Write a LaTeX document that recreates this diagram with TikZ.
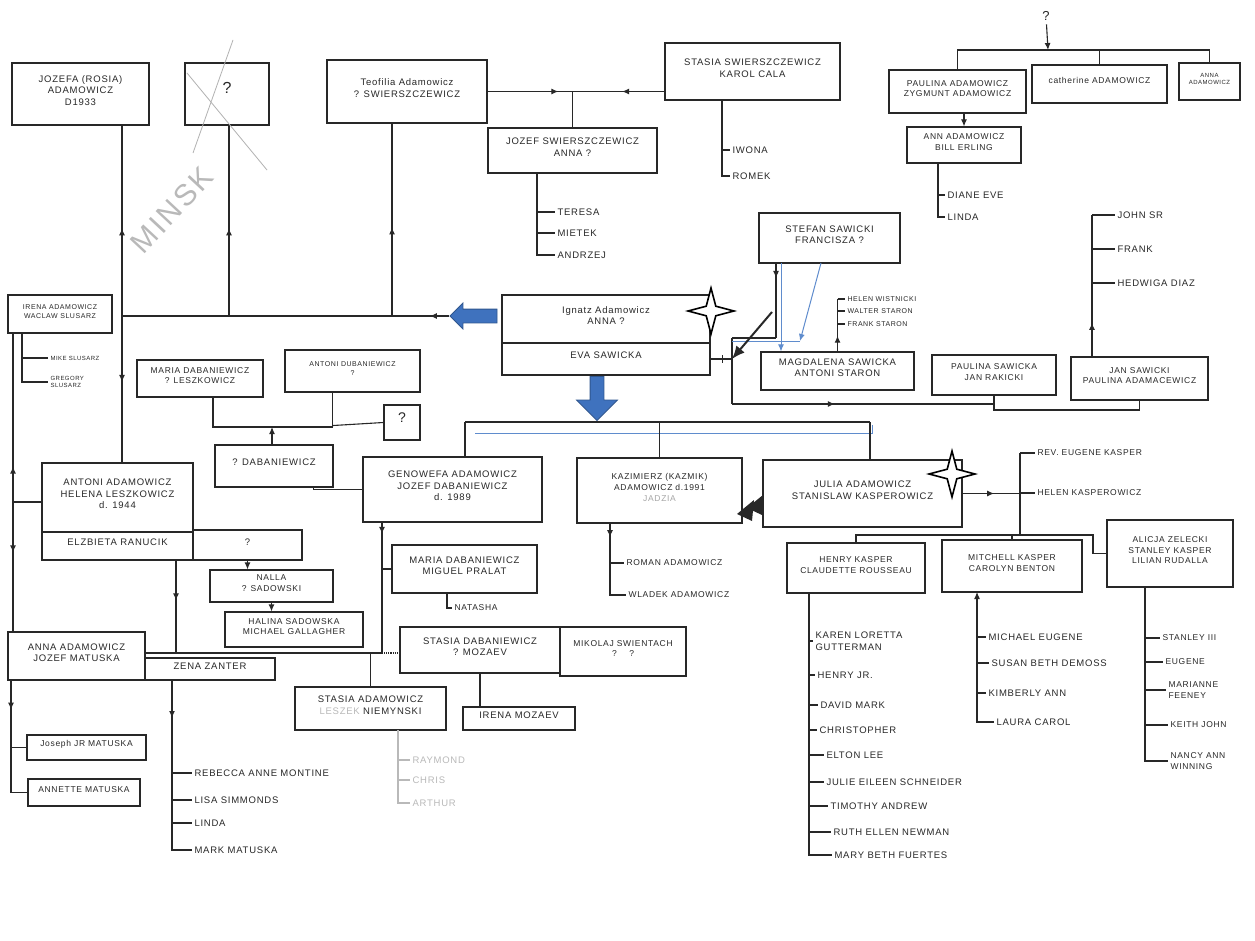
\documentclass[tikz,border=0pt]{standalone}
\usepackage{fontspec}
\usetikzlibrary{positioning,fit,calc,shapes.geometric,shapes.arrows,arrows.meta,decorations.markings}
\newfontfamily\hand{Liberation Sans}[LetterSpace=8]
\newcommand{\fA}{\hand\fontsize{9.5}{11.5}\selectfont}
\newcommand{\fB}{\hand\fontsize{8.5}{10.5}\selectfont}
\newcommand{\fC}{\hand\fontsize{7}{8.5}\selectfont}
\newcommand{\fD}{\hand\fontsize{6}{7}\selectfont}
\definecolor{inkgray}{RGB}{40,40,40}
\definecolor{arrowblue}{RGB}{63,114,190}
\definecolor{lineblue}{RGB}{95,140,205}
\tikzstyle{person}=[draw,rectangle,inner sep=0pt,align=left,font=\fA]
\tikzstyle{kid}=[anchor=west,inner sep=2pt,align=left,font=\fA]
\tikzstyle{fatarrow}=[single arrow,fill=arrowblue,draw=arrowblue!75!black,line width=0.8pt,single arrow head indent=0pt]
\tikzstyle{starmark}=[star,star points=4,star point ratio=3.4,draw=black,fill=white,line width=1.6pt,minimum size=46pt,inner sep=0pt]
\tikzstyle{blueline}=[draw=lineblue,line width=1pt]
\tikzset{midarrow/.style={postaction={decorate},decoration={markings,mark=at position #1 with {\arrow{>}}}},midarrow/.default=0.5}
\newcommand{\newPerson}[5][]{\node[person,fit={(#3) (#4)},#1](#2){#5};}
\newcommand{\newKid}[5][]{\node[kid,#1](#3) at (#4){#5};\draw[#1] (#2 |- #3.west) -- (#3.west);}

\begin{document}
\begin{tikzpicture}[x=1pt,y=-1pt,>={Latex[length=7pt,width=6pt]},
    line width=1.1pt,color=inkgray]
  \path[fill=white] (0,0) rectangle (1255,941);
  \useasboundingbox (0,0) rectangle (1255,941);

  % top row
  \newPerson{josefa}{12,63}{149,125}{JOZEFA (ROSIA)\\ADAMOWICZ\\D1933}
  \newPerson[font=\hand\fontsize{16}{16}\selectfont]{unknownA}{185,63}{269,125}{?}
  \newPerson{teofilia}{327,60}{487,123}{Teofilia Adamowicz\\? SWIERSZCZEWICZ}
  \newPerson{stasiaS}{665,43}{840,100}{STASIA SWIERSZCZEWICZ\\KAROL CALA}
  \newPerson{jozefS}{488,128}{657,173}{JOZEF SWIERSZCZEWICZ\\ANNA ?}
  \draw[gray!60,line width=0.8pt] (233,40) -- (193,153) (187,73) -- (267,170);
  \node[gray!55,rotate=47,font=\hand\fontsize{30}{30}\selectfont] (minsk) at (172,210) {MINSK};

  \node[font=\hand\fontsize{13}{13}\selectfont] (qtop) at (1046,16) {?};
  \coordinate (sibs) at (1048,50);
  \newPerson[font=\fB]{paulinaA}{889,70}{1026,113}{PAULINA ADAMOWICZ\\ZYGMUNT ADAMOWICZ}
  \newPerson[font=\fB]{catherine}{1032,65}{1167,103}{catherine ADAMOWICZ}
  \newPerson[font=\fD]{annaA}{1179,63}{1240,100}{ANNA\\ADAMOWICZ}
  \newPerson[font=\fB]{annE}{907,127}{1021,163}{ANN ADAMOWICZ\\BILL ERLING}

  % Ignatz and the Sawicki side
  \newPerson{ignatz}{502,295}{710,343}{Ignatz Adamowicz\\ANNA ?}
  \newPerson{eva}{502,343}{710,375}{EVA SAWICKA}
  \node[starmark] (starA) at (711,311) {};
  \node[fatarrow,rotate=180,minimum height=47pt,inner sep=6.5pt,single arrow head extend=6pt] (leftArr) at (477,316) {};
  \node[fatarrow,rotate=-90,minimum height=44pt,inner sep=6.5pt,single arrow head extend=13.5pt] (downArr) at (597,395) {};
  \newPerson{stefan}{759,213}{900,263}{STEFAN SAWICKI\\FRANCISZA ?}
  \newPerson{magda}{761,352}{914,390}{MAGDALENA SAWICKA\\ANTONI STARON}
  \newPerson[font=\fB]{paulinaS}{932,355}{1056,395}{PAULINA SAWICKA\\JAN RAKICKI}
  \newPerson[font=\fB]{janS}{1071,357}{1208,400}{JAN SAWICKI\\PAULINA ADAMACEWICZ}

  % left side
  \newPerson[font=\fC]{irena}{8,295}{112,333}{IRENA ADAMOWICZ\\WACLAW SLUSARZ}
  \newPerson{antoniA}{42,463}{193,532}{ANTONI ADAMOWICZ\\HELENA LESZKOWICZ\\d. 1944}
  \newPerson{elz}{42,532}{193,560}{ELZBIETA RANUCIK}
  \newPerson{extQ}{193,530}{302,560}{?}
  \newPerson[font=\fB]{mariaD}{137,360}{263,397}{MARIA DABANIEWICZ\\? LESZKOWICZ}
  \newPerson[font=\fC]{antoniD}{285,350}{420,392}{ANTONI DUBANIEWICZ\\?}
  \newPerson[font=\hand\fontsize{14}{14}\selectfont]{qBox}{384,405}{420,440}{?}
  \newPerson{qDab}{215,445}{333,487}{? DABANIEWICZ}
  \newPerson[font=\fB]{nalla}{210,570}{333,602}{NALLA\\? SADOWSKI}
  \newPerson[font=\fB]{halina}{225,612}{363,647}{HALINA SADOWSKA\\MICHAEL GALLAGHER}

  % the children of Ignatz
  \newPerson{genowefa}{363,457}{542,522}{GENOWEFA ADAMOWICZ\\JOZEF DABANIEWICZ\\d. 1989}
  \newPerson[font=\hand\fontsize{8.5}{11}\selectfont]{kazimierz}{577,458}{742,523}{KAZIMIERZ (KAZMIK)\\ADAMOWICZ d.1991\\\textcolor{gray!70}{JADZIA}}
  \newPerson{julia}{763,460}{962,527}{JULIA ADAMOWICZ\\STANISLAW KASPEROWICZ}
  \node[starmark] (starB) at (952,474) {};
  \newPerson{maria2}{392,545}{537,593}{MARIA DABANIEWICZ\\MIGUEL PRALAT}
  \newPerson{stasiaD}{400,627}{560,673}{STASIA DABANIEWICZ\\? MOZAEV}
  \newPerson[font=\fB]{mikolaj}{560,627}{686,676}{MIKOLAJ SWIENTACH\\? \quad ?}
  \newPerson{irenaM}{463,707}{575,730}{IRENA MOZAEV}
  \newPerson{stasiaA}{295,687}{446,730}{STASIA ADAMOWICZ\\\textcolor{gray!55}{LESZEK} NIEMYNSKI}

  % bottom left
  \newPerson{annaM}{8,632}{145,680}{ANNA ADAMOWICZ\\JOZEF MATUSKA}
  \newPerson{zena}{145,658}{275,680}{ZENA ZANTER}
  \newPerson[font=\fB]{joseph}{27,735}{146,760}{Joseph JR MATUSKA}
  \newPerson[font=\fB]{annette}{28,779}{140,806}{ANNETTE MATUSKA}

  % Kasper side
  \newPerson[font=\fB]{henry}{787,543}{925,593}{HENRY KASPER\\CLAUDETTE ROUSSEAU}
  \newPerson[font=\fB]{mitchell}{942,540}{1082,592}{MITCHELL KASPER\\CAROLYN BENTON}
  \newPerson[font=\fB]{alicia}{1107,520}{1233,587}{ALICJA ZELECKI\\STANLEY KASPER\\LILIAN RUDALLA}

  % links, top
  \draw[postaction={decorate},decoration={markings,mark=at position 0.4 with {\arrow{>}},mark=at position 0.8 with {\arrow{<}}}] (teofilia.east) -- (teofilia.east -| stasiaS.west);
  \draw (jozefS.north) -- (jozefS.north |- teofilia.east);
  \coordinate (jozT) at (537,173);
  \newKid{jozT}{teresa}{555,212}{TERESA}
  \newKid{jozT}{mietek}{555,233}{MIETEK}
  \newKid{jozT}{andrzej}{555,255}{ANDRZEJ}
  \draw (jozT) |- (andrzej.west);
  \coordinate (staT) at (722,100);
  \newKid{staT}{iwona}{730,150}{IWONA}
  \newKid{staT}{romek}{730,176}{ROMEK}
  \draw (staT) |- (romek.west);
  \draw[->] (qtop) -- (sibs);
  \draw (paulinaA.north) |- (sibs) -| (annaA.north);
  \draw (catherine.north) -- (catherine.north |- sibs);
  \draw[->] (paulinaA.south -| annE.north) -- (annE.north);
  \coordinate (annT) at (938,163);
  \newKid{annT}{diane}{945,195}{DIANE EVE}
  \newKid{annT}{linda}{945,217}{LINDA}
  \draw (annT) |- (linda.west);

  % links, line left of Ignatz
  \coordinate (genA) at (122,316);
  \coordinate (unkCol) at (229,316);
  \coordinate (teoCol) at (392,316);
  \draw[midarrow=0.06] (leftArr.tip) -- (genA);
  \draw[midarrow=0.46] (genA) -- (genA |- josefa.south);
  \draw[midarrow=0.46] (unkCol) -- (unkCol |- unknownA.south);
  \draw[midarrow=0.46] (teoCol) -- (teoCol |- teofilia.south);
  \draw[midarrow=0.45] (genA) -- (genA |- antoniA.north);

  % links, Sawicki
  \coordinate (brTop) at (732,338);
  \coordinate (brBot) at (732,404);
  \coordinate (stefK) at (776,263);
  \coordinate (stefB) at (781,263);
  \coordinate (stefD) at (821,263);
  \coordinate (blueKnee) at (800,341);
  \coordinate (ptrA) at (772,312);
  \draw (brTop) -- (brBot);
  \draw[midarrow=0.38] (brBot) -| (paulinaS.south);
  \draw (paulinaS.south |- brBot) -- ++(0,6) -| (janS.south);
  \draw[midarrow=0.2] (stefK) -- (stefK |- brTop);
  \draw (brTop) -- (stefK |- brTop);
  \draw[blueline,->] (stefB) -- (stefB |- magda.north);
  \draw[blueline,->] (stefD) -- (blueKnee);
  \draw[blueline] (brTop |- blueKnee) -- (blueKnee);
  \draw (eva.east) -- (eva.east -| brTop);
  \draw ($(eva.east)+(12,-4)$) -- ++(0,8);
  \draw[line width=2pt,-{Latex[length=13pt,width=11pt]}] (ptrA) -- (brTop |- eva.east);
  \newKid[font=\fC]{magda.north}{helen}{845,299}{HELEN WISTNICKI}
  \newKid[font=\fC]{magda.north}{walter}{845,311}{WALTER STARON}
  \newKid[font=\fC]{magda.north}{frankS}{845,324}{FRANK STARON}
  \draw[midarrow=0.3] (magda.north) -- (magda.north |- helen.west);
  \coordinate (janT) at (1092,357);
  \newKid{janT}{john}{1115,215}{JOHN SR}
  \newKid{janT}{frankJ}{1115,249}{FRANK}
  \newKid{janT}{hedwiga}{1115,283}{HEDWIGA DIAZ}
  \draw[midarrow=0.24] (janT) -- (janT |- john.west);

  % links, left side
  \coordinate (ireT) at (22,333);
  \newKid[font=\fD]{ireT}{mike}{48,358}{MIKE SLUSARZ}
  \newKid[font=\fD]{ireT}{gregory}{48,382}{GREGORY\\SLUSARZ}
  \draw (ireT) |- (gregory.west);
  \coordinate (farT) at (13,333);
  \coordinate (farB) at (13,502);
  \draw[midarrow=0.21] (farB) -- (farT);
  \draw[midarrow=0.39] (farB) -- (farB |- annaM.north);
  \draw (farB) -- (farB -| antoniA.west);
  \coordinate (dabJ) at (272,427);
  \draw ($(mariaD.south)+(13,0)$) |- (dabJ) -| ($(antoniD.south)+(-20,0)$);
  \draw ($(antoniD.south)+(-20,33)$) -- (qBox.west);
  \draw[->] (qDab.north -| dabJ) -- (dabJ);
  \draw ($(qDab.south east)+(-20,0)$) |- (genowefa.west);
  \draw[->] (extQ.south) -- (extQ.south |- nalla.north);
  \draw[->] (nalla.south) -- (nalla.south |- halina.north);

  % links, children of Ignatz
  \coordinate (famL) at (465,422);
  \coordinate (famR) at (870,422);
  \coordinate (blueL) at (475,433);
  \coordinate (blueR) at (872,433);
  \draw (famL) -- (famR);
  \draw[blueline] (blueL) -- (blueR) -- ++(0,-8);
  \draw (famL) -- (famL |- genowefa.north);
  \draw (kazimierz.north) -- (kazimierz.north |- famL);
  \draw (famR) -- (famR |- julia.north);
  \fill (737,514) -- (754,500) -- (752,521) -- cycle;
  \fill (747,508) -- (763,495) -- (762,515) -- cycle;
  \coordinate (kazT) at (610,523);
  \newKid[font=\fB]{kazT}{roman}{624,563}{ROMAN ADAMOWICZ}
  \newKid[font=\fB]{kazT}{wladek}{626,595}{WLADEK ADAMOWICZ}
  \draw[midarrow=0.16] (kazT) |- (wladek.west);
  \coordinate (genT) at (382,522);
  \coordinate (genJ) at (382,653);
  \draw[midarrow=0.09] (genT) -- (genJ);
  \draw (genT |- maria2.west) -- (maria2.west);
  \coordinate (natT) at (447,593);
  \node[kid,font=\fB] (natasha) at (452,608) {NATASHA};
  \draw (natT) |- (natasha.west);
  \draw (stasiaD.south) -- (stasiaD.south |- irenaM.north);
  \draw[densely dotted] (genJ) -- (genJ -| stasiaD.west);

  % links, bottom left
  \coordinate (antJ) at (176,653);
  \draw[midarrow=0.43] (antJ |- elz.south) -- (antJ);
  \draw (annaM.east |- antJ) -- (genJ);
  \draw (stasiaA.north |- antJ) -- (stasiaA.north);
  \coordinate (annT2) at (11,680);
  \draw[midarrow=0.23] (annT2) |- (annette.west);
  \draw (annT2 |- joseph.west) -- (joseph.west);
  \coordinate (zenT) at (172,680);
  \newKid{zenT}{rebecca}{192,773}{REBECCA ANNE MONTINE}
  \newKid{zenT}{lisa}{192,800}{LISA SIMMONDS}
  \newKid{zenT}{lindaM}{192,823}{LINDA}
  \newKid{zenT}{mark}{192,850}{MARK MATUSKA}
  \draw[midarrow=0.2] (zenT) |- (mark.west);
  \coordinate (staAT) at (398,730);
  \newKid[gray!55]{staAT}{raymond}{410,760}{RAYMOND}
  \newKid[gray!55]{staAT}{chris}{410,780}{CHRIS}
  \newKid[gray!55]{staAT}{arthur}{410,803}{ARTHUR}
  \draw[gray!55] (staAT) |- (arthur.west);

  % links, Kasper
  \coordinate (kasT) at (1020,453);
  \coordinate (kasB) at (1020,535);
  \coordinate (aliJ) at (1093,535);
  \draw (kasT) -- (kasB);
  \newKid[font=\fB]{kasT}{eugeneR}{1035,453}{REV. EUGENE KASPER}
  \newKid[font=\fB]{kasT}{helenK}{1035,493}{HELEN KASPEROWICZ}
  \draw[midarrow=0.55] (julia.east) -- (julia.east -| kasT);
  \draw (henry.north) |- (aliJ) |- (alicia.west);
  \draw (mitchell.north) -- (mitchell.north |- aliJ);
  \coordinate (henT) at (809,593);
  \newKid{henT}{karen}{813,641}{KAREN LORETTA\\GUTTERMAN}
  \newKid{henT}{henryJ}{815,675}{HENRY JR.}
  \newKid{henT}{david}{818,705}{DAVID MARK}
  \newKid{henT}{christopher}{817,730}{CHRISTOPHER}
  \newKid{henT}{elton}{824,755}{ELTON LEE}
  \newKid{henT}{julie}{824,782}{JULIE EILEEN SCHNEIDER}
  \newKid{henT}{timothy}{828,806}{TIMOTHY ANDREW}
  \newKid{henT}{ruth}{831,832}{RUTH ELLEN NEWMAN}
  \newKid{henT}{maryB}{832,855}{MARY BETH FUERTES}
  \draw (henT) |- (maryB.west);
  \coordinate (mitT) at (977,592);
  \newKid{mitT}{michael}{986,637}{MICHAEL EUGENE}
  \newKid{mitT}{susan}{989,663}{SUSAN BETH DEMOSS}
  \newKid{mitT}{kimberly}{986,693}{KIMBERLY ANN}
  \newKid{mitT}{laura}{994,722}{LAURA CAROL}
  \draw[<-] (mitT) |- (laura.west);
  \coordinate (aliT) at (1145,587);
  \newKid[font=\fB]{aliT}{stanleyT}{1160,638}{STANLEY III}
  \newKid[font=\fB]{aliT}{eugeneA}{1163,662}{EUGENE}
  \newKid[font=\fB]{aliT}{marianne}{1166,690}{MARIANNE\\FEENEY}
  \newKid[font=\fB]{aliT}{keith}{1168,725}{KEITH JOHN}
  \newKid[font=\fB]{aliT}{nancy}{1168,761}{NANCY ANN\\WINNING}
  \draw (aliT) |- (nancy.west);
\end{tikzpicture}
\end{document}
